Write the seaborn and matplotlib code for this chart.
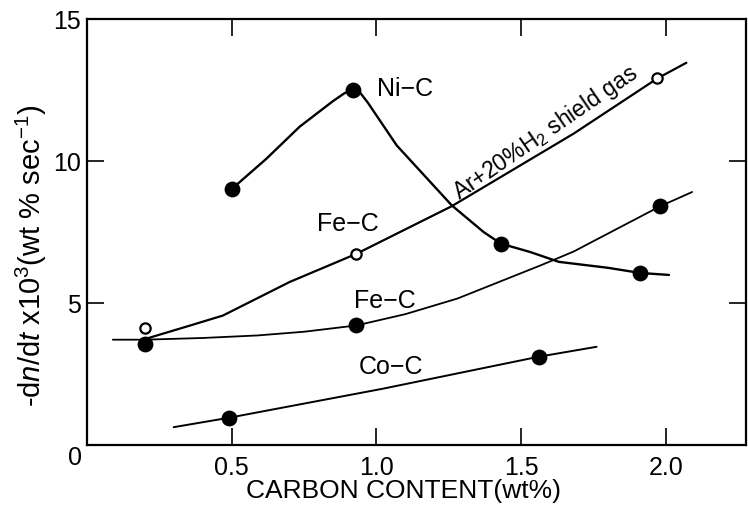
import matplotlib
matplotlib.use("Agg")
import matplotlib.pyplot as plt
import seaborn as sns
import pandas as pd

# -------------------------
# Data
# -------------------------
# Ni-C (filled circles)
ni_x = [0.50, 0.92, 1.43, 1.91]
ni_y = [9.0, 12.5, 7.08, 6.05]
ni_curve_x = [0.50, 0.62, 0.735, 0.85, 0.89, 0.92, 0.945, 0.97, 1.07, 1.26, 1.37, 1.43, 1.53, 1.63, 1.80, 1.91, 2.01]
ni_curve_y = [9.0, 10.07, 11.2, 12.1, 12.38, 12.5, 12.38, 12.05, 10.54, 8.43, 7.49, 7.08, 6.79, 6.44, 6.23, 6.05, 5.98]

# Fe-C in Ar+20%H2 shield gas (open circles)
ar_x = [0.20, 0.93, 1.97]
ar_y = [4.1, 6.72, 12.9]
ar_curve_x = [0.21, 0.357, 0.47, 0.70, 0.93, 1.26, 1.68, 1.97, 2.07]
ar_curve_y = [3.75, 4.2, 4.55, 5.73, 6.72, 8.4, 10.95, 12.9, 13.45]

# Fe-C (filled circles)
fe_x = [0.20, 0.93, 1.98]
fe_y = [3.55, 4.2, 8.4]
fe_curve_x = [0.09, 0.20, 0.40, 0.59, 0.75, 0.93, 1.10, 1.28, 1.57, 1.68, 1.98, 2.09]
fe_curve_y = [3.7, 3.7, 3.76, 3.85, 3.98, 4.2, 4.6, 5.15, 6.33, 6.8, 8.4, 8.9]

# Co-C (filled circles)
co_x = [0.49, 1.56]
co_y = [0.95, 3.1]
co_curve_x = [0.30, 0.49, 1.02, 1.56, 1.76]
co_curve_y = [0.62, 0.95, 1.97, 3.1, 3.45]

x_ticks = [0.5, 1.0, 1.5, 2.0]
x_tick_labels = ["0.5", "1.0", "1.5", "2.0"]
y_ticks = [5, 10, 15]
y_tick_labels = ["5", "10", "15"]

# -------------------------
# Style
# -------------------------
sns.set_style("ticks")
plt.rcParams["font.family"] = ["Liberation Sans", "DejaVu Sans"]
plt.rcParams["mathtext.fontset"] = "custom"
plt.rcParams["mathtext.rm"] = "Liberation Sans"
plt.rcParams["mathtext.it"] = "Liberation Sans:italic"
for key in ["text.color", "axes.labelcolor", "xtick.color", "ytick.color", "axes.edgecolor"]:
    plt.rcParams[key] = "black"

fig = plt.figure(figsize=(7.48, 5.06), dpi=100)
ax = fig.add_axes([0.116, 0.119, 0.881, 0.842])

# -------------------------
# Curves
# -------------------------
curves = [
    (ni_curve_x, ni_curve_y, 1.7),
    (ar_curve_x, ar_curve_y, 1.6),
    (fe_curve_x, fe_curve_y, 1.3),
    (co_curve_x, co_curve_y, 1.4),
]
for cx, cy, lw in curves:
    sns.lineplot(x=cx, y=cy, ax=ax, color="black", linewidth=lw,
                 sort=False, estimator=None)

# filled points
filled = pd.DataFrame({
    "x": ni_x + fe_x + co_x,
    "y": ni_y + fe_y + co_y,
})
sns.scatterplot(data=filled, x="x", y="y", ax=ax, color="black", s=130,
                edgecolor="black", linewidth=0, zorder=5)

# open points
sns.scatterplot(x=ar_x, y=ar_y, ax=ax, facecolor="white", edgecolor="black",
                s=55, linewidth=1.6, zorder=6)

# -------------------------
# Annotations
# -------------------------
ax.text(1.10, 12.57, "Ni\u2212C", fontsize=18, ha="center", va="center")
ax.text(0.90, 7.8, "Fe\u2212C", fontsize=18, ha="center", va="center")
ax.text(1.03, 5.1, "Fe\u2212C", fontsize=18, ha="center", va="center")
ax.text(1.05, 2.77, "Co\u2212C", fontsize=18, ha="center", va="center")
ax.text(1.585, 11.0, "Ar+20%H$_2$ shield gas", fontsize=16.5, ha="center",
        va="center", rotation=34.5)

# -------------------------
# Axes
# -------------------------
ax.set_xlim(0, 2.275)
ax.set_ylim(0, 15)
ax.set_xticks(x_ticks)
ax.set_xticklabels(x_tick_labels)
ax.set_yticks(y_ticks)
ax.set_yticklabels(y_tick_labels)
ax.tick_params(direction="in", length=12, width=1.2, labelsize=18,
               top=True, right=True, pad=7)
ax.tick_params(axis="y", pad=4)
for sp in ax.spines.values():
    sp.set_linewidth(1.6)
    sp.set_visible(True)

ax.text(-0.018, -0.028, "0", transform=ax.transAxes, fontsize=18,
        ha="center", va="center")

ax.set_xlabel("CARBON CONTENT(wt%)", fontsize=19)
ax.xaxis.set_label_coords(0.48, -0.078)
ax.set_ylabel(r"-d$\it{n}$/d$\it{t}$ x10$^3$(wt % sec$^{-1}$)", fontsize=21)
ax.yaxis.set_label_coords(-0.058, 0.446)

plt.savefig("out.png", dpi=100)
